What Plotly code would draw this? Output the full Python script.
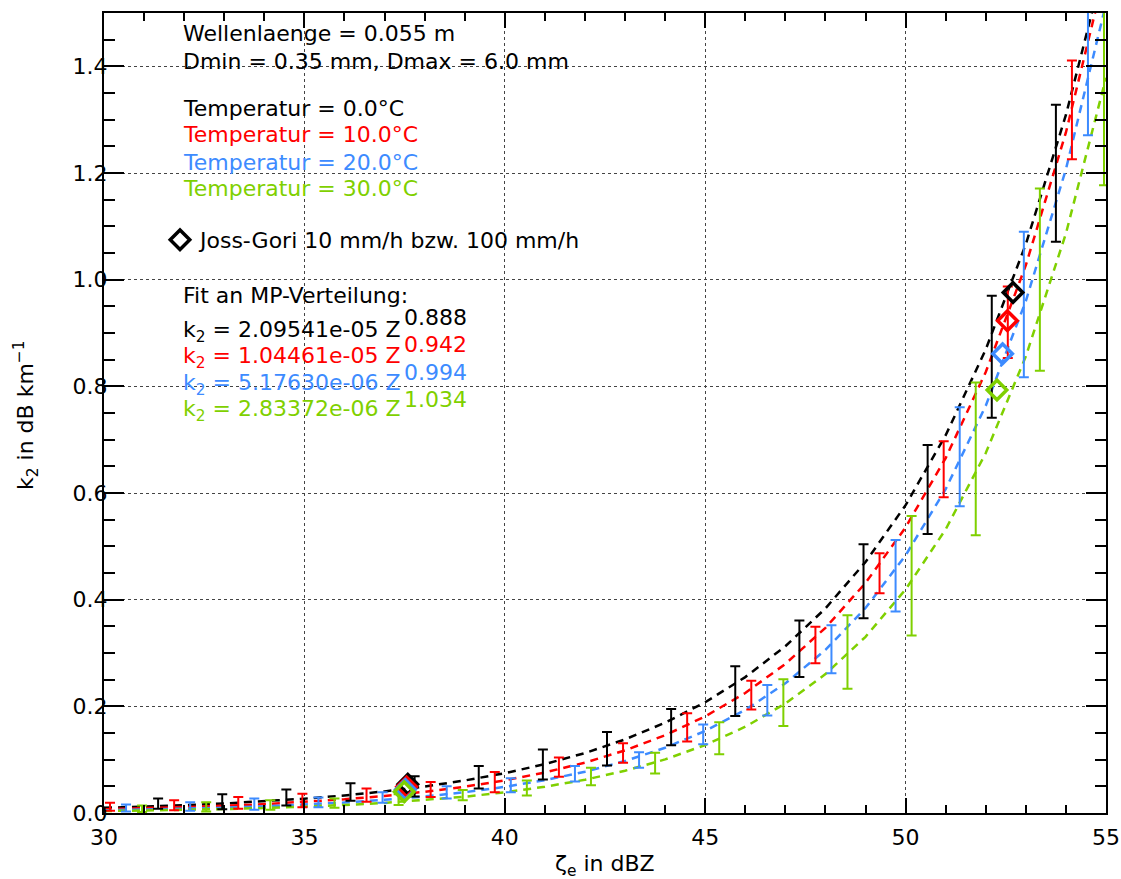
import plotly.graph_objects as go

# ---------------- data ----------------
line_x = [30, 31, 32, 33, 34, 35, 36, 37, 38, 39, 40, 41, 42, 43, 44, 45,
          46, 47, 48, 49, 50, 51, 52, 53, 54, 55]

black_fit = [0.00967, 0.01186, 0.01456, 0.01786, 0.02192, 0.02690, 0.03299, 0.04048,
             0.04968, 0.06096, 0.0747, 0.0916, 0.1124, 0.1380, 0.1693, 0.2076,
             0.2548, 0.3126, 0.3836, 0.4707, 0.5772, 0.7083, 0.8692, 1.0666, 1.3088, 1.604]
red_fit = [0.00700, 0.00870, 0.01080, 0.01342, 0.01667, 0.02070, 0.02572, 0.03195,
           0.03969, 0.04931, 0.0612, 0.0760, 0.0945, 0.1174, 0.1458, 0.1811,
           0.2250, 0.2795, 0.3472, 0.4313, 0.5357, 0.6655, 0.8268, 1.0271, 1.2760, 1.5847]
blue_fit = [0.00497, 0.00624, 0.00785, 0.00987, 0.01241, 0.01560, 0.01961, 0.02466,
            0.03100, 0.03897, 0.04899, 0.06159, 0.07743, 0.09735, 0.1224, 0.1538,
            0.1934, 0.2431, 0.3057, 0.3843, 0.4831, 0.6074, 0.7636, 0.9600, 1.2069, 1.5173]
green_fit = [0.00358, 0.00455, 0.00577, 0.00732, 0.00929, 0.01179, 0.01496, 0.01898,
             0.02408, 0.03055, 0.03876, 0.04918, 0.06240, 0.07917, 0.1005, 0.1275,
             0.1617, 0.2052, 0.2604, 0.3304, 0.4192, 0.5319, 0.6749, 0.8563, 1.0865, 1.3786]

black_x = [31.35, 32.95, 34.55, 36.15, 37.75, 39.35, 40.95, 42.55, 44.15, 45.75, 47.35,
           48.95, 50.55, 52.15, 53.75]
black_hi = [0.027, 0.035, 0.044, 0.056, 0.069, 0.088, 0.119, 0.152, 0.195, 0.275, 0.361,
            0.504, 0.690, 0.970, 1.328]
black_lo = [0.008, 0.007, 0.014, 0.023, 0.031, 0.046, 0.063, 0.089, 0.127, 0.182, 0.255,
            0.365, 0.523, 0.741, 1.071]

red_x = [30.15, 31.75, 33.35, 34.95, 36.55, 38.15, 39.75, 41.35, 42.95, 44.55, 46.15,
         47.75, 49.35, 50.95, 52.55, 54.15]
red_hi = [0.019, 0.024, 0.030, 0.036, 0.046, 0.058, 0.077, 0.104, 0.131, 0.187, 0.248,
          0.349, 0.487, 0.697, 0.987, 1.411]
red_lo = [0.004, 0.005, 0.008, 0.011, 0.021, 0.030, 0.039, 0.068, 0.094, 0.134, 0.194,
          0.281, 0.412, 0.592, 0.853, 1.226]

blue_x = [30.55, 32.15, 33.75, 35.35, 36.95, 38.55, 40.15, 41.75, 43.35, 44.95, 46.55,
          48.15, 49.75, 51.35, 52.95, 54.55]
blue_hi = [0.016, 0.020, 0.027, 0.029, 0.039, 0.050, 0.065, 0.088, 0.114, 0.166, 0.240,
           0.352, 0.512, 0.761, 1.090, 1.560]
blue_lo = [0.003, 0.004, 0.006, 0.011, 0.019, 0.027, 0.039, 0.059, 0.085, 0.129, 0.183,
           0.262, 0.378, 0.575, 0.817, 1.271]

green_x = [30.95, 32.55, 34.15, 35.75, 37.35, 38.95, 40.55, 42.15, 43.75, 45.35, 46.95,
           48.55, 50.15, 51.75, 53.35, 54.95]
green_hi = [0.014, 0.020, 0.024, 0.027, 0.035, 0.043, 0.061, 0.085, 0.113, 0.170, 0.251,
            0.371, 0.557, 0.807, 1.171, 1.600]
green_lo = [0.002, 0.003, 0.006, 0.010, 0.015, 0.024, 0.033, 0.052, 0.074, 0.110, 0.163,
            0.233, 0.333, 0.521, 0.829, 1.177]

# Joss-Gori 10 mm/h and 100 mm/h
jg_black_x, jg_black_y = [37.58, 52.68], [0.054, 0.976]
jg_red_x, jg_red_y = [37.55, 52.54], [0.049, 0.923]
jg_blue_x, jg_blue_y = [37.52, 52.42], [0.044, 0.861]
jg_green_x, jg_green_y = [37.49, 52.28], [0.040, 0.793]

temps = ["0.0", "10.0", "20.0", "30.0"]
coef_a = ["2.09541e-05", "1.04461e-05", "5.17630e-06", "2.83372e-06"]
coef_b = ["0.888", "0.942", "0.994", "1.034"]

# ---------------- style ----------------
COLS = ["#000000", "#ff0000", "#3d8bff", "#7fd000"]
FONT = "DejaVu Sans"
FS = 22

series = [
    (black_fit, black_x, black_hi, black_lo, jg_black_x, jg_black_y),
    (red_fit, red_x, red_hi, red_lo, jg_red_x, jg_red_y),
    (blue_fit, blue_x, blue_hi, blue_lo, jg_blue_x, jg_blue_y),
    (green_fit, green_x, green_hi, green_lo, jg_green_x, jg_green_y),
]

fig = go.Figure()

for (fit, bx, hi, lo, jx, jy), c in zip(series, COLS):
    fig.add_trace(go.Scatter(x=line_x, y=fit, mode="lines", showlegend=False,
                             line=dict(color=c, width=2.5, dash="8px,6px"),
                             hoverinfo="skip"))

for (fit, bx, hi, lo, jx, jy), c in zip(series, COLS):
    mid = [(h + l) / 2 for h, l in zip(hi, lo)]
    fig.add_trace(go.Scatter(
        x=bx, y=mid, mode="markers", showlegend=False,
        marker=dict(size=1, color="rgba(0,0,0,0)"),
        error_y=dict(type="data", symmetric=False,
                     array=[h - m for h, m in zip(hi, mid)],
                     arrayminus=[m - l for m, l in zip(mid, lo)],
                     color=c, thickness=2, width=5)))

for i, ((fit, bx, hi, lo, jx, jy), c) in enumerate(zip(series, COLS)):
    fig.add_trace(go.Scatter(
        x=jx, y=jy, mode="markers",
        name="Joss-Gori 10 mm/h bzw. 100 mm/h", showlegend=(i == 0),
        marker=dict(symbol="diamond-open", size=15, color=c,
                    line=dict(color=c, width=3.5))))

PLOT_L, PLOT_R, PLOT_T, PLOT_B = 104, 1106, 13, 813
def px_x(p):
    return (p - PLOT_L) / (PLOT_R - PLOT_L)
def px_y(p):
    return (PLOT_B - p) / (PLOT_B - PLOT_T)

annots = []
def txt(s, x, y, color="#000000", size=FS):
    annots.append(dict(text=s, x=px_x(x), y=px_y(y), xref="paper", yref="paper",
                       xanchor="left", yanchor="middle", showarrow=False,
                       font=dict(family=FONT, size=size, color=color)))

txt("Wellenlaenge = 0.055 m", 181, 33)
txt("Dmin = 0.35 mm, Dmax = 6.0 mm", 181, 61)
for i, (t, c) in enumerate(zip(temps, COLS)):
    txt(f"Temperatur = {t}°C", 181, 108 + 27 * i, c)
txt("Fit an MP-Verteilung:", 181, 295)
for i, (a, b, c) in enumerate(zip(coef_a, coef_b, COLS)):
    txt(f"k<sub>2</sub> = {a} Z", 181, 331 + 26.5 * i, c)
    txt(b, 402, 317 + 27.5 * i, c)

# axis titles
annots.append(dict(text="ζ<sub>e</sub> in dBZ", x=px_x(605), y=px_y(866), xref="paper",
                   yref="paper", xanchor="center", yanchor="middle", showarrow=False,
                   font=dict(family=FONT, size=FS, color="#000000")))
annots.append(dict(text="k<sub>2</sub> in dB km<sup>−1</sup>", x=px_x(26), y=px_y(415),
                   xref="paper", yref="paper", xanchor="center", yanchor="middle",
                   textangle=-90, showarrow=False,
                   font=dict(family=FONT, size=FS, color="#000000")))

axis_common = dict(showline=True, linecolor="#000000", linewidth=2, mirror="ticks",
                   ticks="inside", tickcolor="#000000", tickwidth=1.5, automargin=False,
                   showgrid=True, gridcolor="#444444", griddash="dot", gridwidth=1,
                   zeroline=False, tickfont=dict(family=FONT, size=FS, color="#000000"))

fig.update_layout(
    width=1121, height=879, autosize=False,
    margin=dict(l=PLOT_L, r=1121 - PLOT_R, t=PLOT_T, b=879 - PLOT_B, autoexpand=False),
    paper_bgcolor="white", plot_bgcolor="white",
    xaxis=dict(range=[30, 55], tick0=30, dtick=5, ticklen=15,
               ticklabelstandoff=4,
               minor=dict(dtick=1, ticklen=8, ticks="inside", tickcolor="#000000",
                          tickwidth=1.5, showgrid=False),
               **axis_common),
    yaxis=dict(range=[0, 1.5], tick0=0, dtick=0.2, tickformat=".1f", ticklen=20,
               ticklabelstandoff=-10,
               minor=dict(dtick=0.05, ticklen=11, ticks="inside", tickcolor="#000000",
                          tickwidth=1.5, showgrid=False),
               **axis_common),
    showlegend=True,
    legend=dict(x=px_x(160), y=px_y(240), xanchor="left", yanchor="middle",
                bgcolor="rgba(0,0,0,0)", borderwidth=0,
                font=dict(family=FONT, size=FS, color="#000000"),
                itemwidth=30),
    annotations=annots,
)

fig.write_html("out.html", config={"displayModeBar": False},
               post_script="document.body.style.margin='0';")
